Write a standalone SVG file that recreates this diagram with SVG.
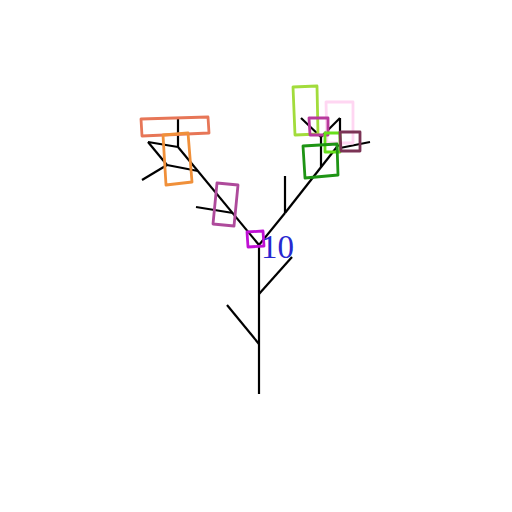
<svg xmlns="http://www.w3.org/2000/svg" width="512" height="512" viewBox="0 0 512 512">
<style>
.br{stroke:#000;stroke-width:2.2;fill:none;stroke-linecap:butt}
.bx{fill:none;stroke-width:2.8;stroke-linejoin:round}
.lbl{font-family:"Liberation Serif","DejaVu Serif",serif;font-size:33px;fill:#2828d0}
</style>
<rect width="512" height="512" fill="#fff"/>
<g id="connectors">
<line class="br" x1="259" y1="394" x2="259" y2="245"/>
<line class="br" x1="259" y1="344" x2="227" y2="305"/>
<line class="br" x1="259" y1="294" x2="292" y2="257"/>
<line class="br" x1="259" y1="245" x2="178" y2="147"/>
<line class="br" x1="233" y1="213" x2="196" y2="207"/>
<line class="br" x1="198" y1="171" x2="167" y2="165"/>
<line class="br" x1="167" y1="165" x2="142" y2="180"/>
<line class="br" x1="167" y1="165" x2="148" y2="142"/>
<line class="br" x1="148" y1="142" x2="178" y2="147"/>
<line class="br" x1="178" y1="147" x2="178" y2="117"/>
<line class="br" x1="259" y1="245" x2="285" y2="213"/>
<line class="br" x1="285" y1="213" x2="285" y2="176"/>
<line class="br" x1="285" y1="213" x2="340" y2="143"/>
<line class="br" x1="321" y1="167" x2="321" y2="137"/>
<line class="br" x1="321" y1="137" x2="301" y2="118"/>
<line class="br" x1="321" y1="137" x2="340" y2="118"/>
<line class="br" x1="340" y1="118" x2="340" y2="143"/>
<line class="br" x1="340" y1="148" x2="370" y2="142"/>
</g>
<g id="n-coral"><polygon class="bx" stroke="#e77657" points="141,119 208,117 209,133 142,136"/></g>
<g id="n-orange"><polygon class="bx" stroke="#f0903a" points="163,135 188,133 192,182 166,185"/></g>
<g id="n-purple"><polygon class="bx" stroke="#ae4a9b" points="217,183 238,185 234,226 213,224"/></g>
<g id="n-violet"><polygon class="bx" stroke="#c010d4" points="247,232 263,231 264,246 248,247"/></g>
<g id="n-pink"><polygon class="bx" stroke="#ffd6f2" points="326,102 353,102 353,143 327,143"/></g>
<g id="n-yellowgreen"><polygon class="bx" stroke="#a2dc3c" points="293,87 317,86 318,134 295,135"/></g>
<g id="n-magenta"><polygon class="bx" stroke="#b8389c" points="309,118 328,118 328,135 310,135"/></g>
<g id="n-lime"><polygon class="bx" stroke="#66e01a" points="325,133 340,133 340,152 325,152"/></g>
<g id="n-maroon"><polygon class="bx" stroke="#7b3355" points="340,132 360,132 360,151 341,151"/></g>
<g id="n-green"><polygon class="bx" stroke="#1e9414" points="303,146 337,144 338,175 305,178"/></g>
<g id="label"><text class="lbl" x="261" y="258">10</text></g>
</svg>
